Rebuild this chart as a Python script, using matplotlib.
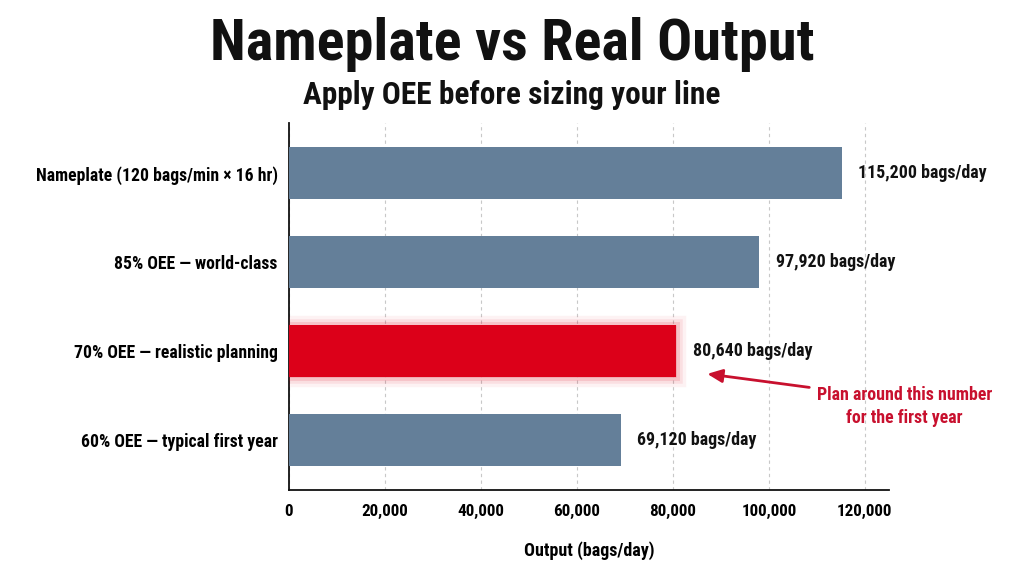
import matplotlib
matplotlib.use("Agg")
import matplotlib.pyplot as plt
import matplotlib.patheffects as pe
from matplotlib import font_manager as fm

# pick a narrow bold sans if one is installed
bold_families = {f.name for f in fm.fontManager.ttflist if f.weight in (700, "bold")}
preferred = ["Liberation Sans Narrow", "Arial Narrow", "Roboto Condensed",
             "Archivo Narrow", "PT Sans Narrow", "IBM Plex Sans Condensed"]
narrow = [f for f in preferred if f in bold_families]
plt.rcParams["font.family"] = narrow[:1] + ["Liberation Sans", "DejaVu Sans"]
plt.rcParams["font.weight"] = "bold"

# data
categories = [
    "Nameplate (120 bags/min \u00d7 16 hr)",
    "85% OEE \u2014 world-class",
    "70% OEE \u2014 realistic planning",
    "60% OEE \u2014 typical first year",
]
output_per_day = [115200, 97920, 80640, 69120]
highlight_idx = 2
x_ticks = [0, 20000, 40000, 60000, 80000, 100000, 120000]

BLUE = "#647f99"
RED = "#dc0019"
NOTE_RED = "#c8102e"

fig = plt.figure(figsize=(10.24, 5.76), dpi=100)
ax = fig.add_axes([0.282, 0.149, 0.586, 0.637])

y_pos = list(range(len(categories)))
colors = [RED if i == highlight_idx else BLUE for i in y_pos]
bars = ax.barh(y_pos, output_per_day, height=0.58, color=colors, zorder=3)

# soft glow round the highlighted bar
bars[highlight_idx].set_path_effects([
    pe.Stroke(linewidth=14, foreground=RED, alpha=0.05),
    pe.Stroke(linewidth=9, foreground=RED, alpha=0.08),
    pe.Stroke(linewidth=5, foreground=RED, alpha=0.12),
    pe.Normal(),
])

for i, v in enumerate(output_per_day):
    ax.annotate(f"{v:,} bags/day", xy=(v, i), xytext=(12, 0),
                textcoords="offset points", va="center", ha="left",
                fontsize=12.9, fontweight="bold", color="#111111")

ax.set_yticks(y_pos)
ax.set_yticklabels(categories, fontsize=12.7, fontweight="bold")
ax.set_xticks(x_ticks)
ax.set_xticklabels([f"{t:,}" for t in x_ticks], fontsize=12.3, fontweight="bold")
ax.tick_params(axis="both", length=0)
ax.tick_params(axis="y", pad=8)
ax.tick_params(axis="x", pad=10)

ax.set_xlim(0, 125000)
ax.set_ylim(3.56, -0.56)

ax.grid(axis="x", linestyle=(0, (3, 3)), color="#c8c8c8", linewidth=0.8, zorder=0)
ax.set_axisbelow(True)
for s in ["top", "right"]:
    ax.spines[s].set_visible(False)
for s in ["left", "bottom"]:
    ax.spines[s].set_color("#111111")
    ax.spines[s].set_linewidth(1.3)

ax.set_xlabel("Output (bags/day)", fontsize=13, fontweight="bold", labelpad=16)

# callout
ax.annotate("", xy=(86600, 2.25), xytext=(109000, 2.41),
            arrowprops=dict(arrowstyle="-|>,head_length=0.9,head_width=0.4",
                            color=NOTE_RED, lw=2),
            annotation_clip=False)
ax.text(128200, 2.62, "Plan around this number\nfor the first year",
        ha="center", va="center", multialignment="center",
        fontsize=12.9, fontweight="bold", color=NOTE_RED, clip_on=False,
        linespacing=1.3)

fig.text(0.5, 0.922, "Nameplate vs Real Output", ha="center", va="center",
         fontsize=42, fontweight="bold", color="#111111")
fig.text(0.5, 0.835, "Apply OEE before sizing your line", ha="center", va="center",
         fontsize=22.6, fontweight="bold", color="#111111")

fig.savefig("out.png", dpi=100, facecolor="white")
